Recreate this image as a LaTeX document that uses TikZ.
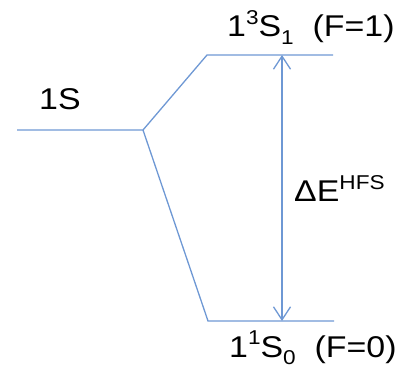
\documentclass[tikz,border=0pt]{standalone}
\usepackage{fontspec}
\setmainfont{Liberation Sans}[FakeStretch=1.13]
\usetikzlibrary{arrows.meta}
\definecolor{lvl}{RGB}{110,152,212}
\newcommand{\mysup}[1]{\raisebox{0.42em}{\fontsize{20}{20}\selectfont #1}}
\newcommand{\mysub}[1]{\raisebox{-0.25em}{\fontsize{20}{20}\selectfont #1}}
\begin{document}
\begin{tikzpicture}[x=1pt,y=1pt,
  lvlline/.style={draw=lvl,line width=1.3pt},
  lbl/.style={anchor=base west,inner sep=0pt,font=\fontsize{30}{32}\selectfont}]
\useasboundingbox (0,0) rectangle (398,369);
\coordinate (s0) at (17,239);
\coordinate (s1) at (143,239);
\coordinate (u0) at (207,314);
\coordinate (u1) at (333,314);
\coordinate (d0) at (208,48);
\coordinate (d1) at (334,48);
\coordinate (at) at (282,314);
\coordinate (ab) at (282,48);
\draw[lvlline] (s0) -- (s1) -- (u0) -- (u1);
\draw[lvlline] (s1) -- (d0) -- (d1);
\draw[lvlline,{Straight Barb[length=13pt,width=17pt]}-{Straight Barb[length=13pt,width=17pt]}] (at) -- (ab);
\node[lbl] (l1s) at (39,259) {1S};
\node[lbl] (ltop) at (227,332) {1\mysup{3}S\mysub{1}\ \ (F=1)};
\node[lbl] (lbot) at (229,12) {1\mysup{1}S\mysub{0}\ \ (F=0)};
\node[lbl] (lde) at (294,167) {ΔE\mysup{HFS}};
\end{tikzpicture}
\end{document}
